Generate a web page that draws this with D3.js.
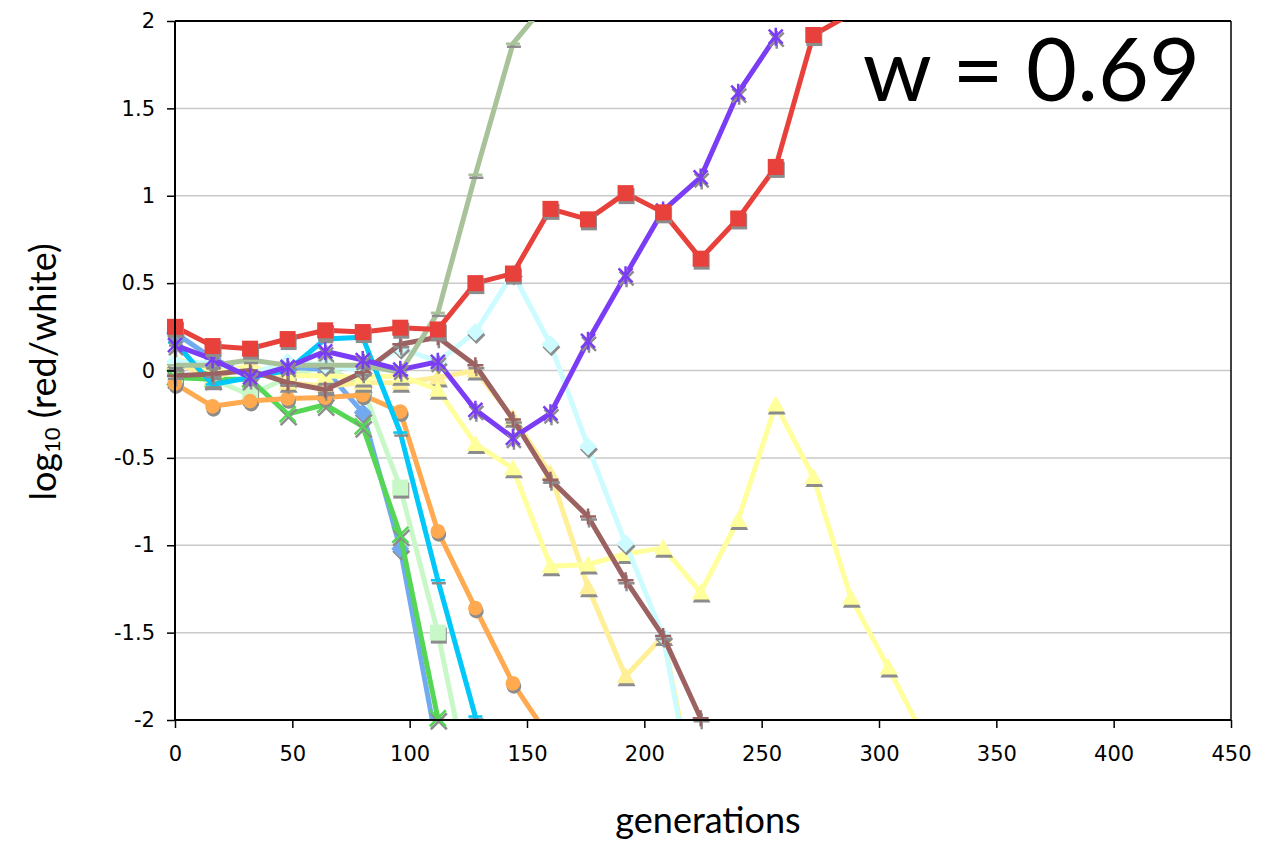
<!DOCTYPE html>
<html>
<head>
<meta charset="utf-8">
<script src="https://cdn.jsdelivr.net/npm/d3@7"></script>
<style>
  body { margin: 0; background: #fff; }
  .tick text { font-family: "DejaVu Sans", Verdana, sans-serif; font-size: 21px; fill: #000; }
</style>
</head>
<body>
<svg width="1281" height="844"></svg>
<script>
// generations sampled every 16
var gens = d3.range(0, 321, 16);

var red       = [0.25, 0.14, 0.125, 0.18, 0.23, 0.22, 0.245, 0.235, 0.5, 0.555, 0.925, 0.865, 1.015, 0.905, 0.64, 0.87, 1.165, 1.92, 2.04];
var purple    = [0.145, 0.065, -0.04, 0.02, 0.11, 0.06, 0.005, 0.05, -0.225, -0.385, -0.245, 0.17, 0.545, 0.915, 1.105, 1.59, 1.91];
var sage      = [0.03, 0.03, 0.06, 0.03, 0.03, 0.03, -0.01, 0.33, 1.12, 1.87, 2.13];
var brown     = [-0.03, -0.02, 0.0, -0.07, -0.11, -0.01, 0.15, 0.19, 0.03, -0.28, -0.625, -0.835, -1.2, -1.52, -1.99, -2.45];
var cyan      = [0.16, -0.08, -0.04, 0.0, 0.18, 0.19, -0.355, -1.2, -1.98, -2.6];
var lightCyan = [0.05, 0.045, -0.02, 0.05, 0.03, 0.0, 0.13, 0.05, 0.22, 0.555, 0.15, -0.435, -0.99, -1.52, -2.67];
var yellowA   = [0.07, 0.0, 0.02, -0.03, -0.03, -0.04, -0.03, -0.11, -0.42, -0.56, -1.12, -1.11, -1.05, -1.015, -1.27, -0.855, -0.195, -0.61, -1.3, -1.7, -2.12];
var yellowB   = [0.05, -0.05, 0.035, -0.07, -0.09, -0.07, -0.07, -0.04, 0.0, -0.27, -0.59, -1.24, -1.75, -1.52, -2.6];
var orange    = [-0.075, -0.205, -0.175, -0.16, -0.155, -0.14, -0.235, -0.92, -1.36, -1.79, -2.11];
var green     = [-0.04, -0.05, -0.05, -0.25, -0.195, -0.32, -0.94, -1.99, -2.1];
var blue      = [0.215, 0.07, -0.03, 0.02, 0.005, -0.24, -1.02, -2.17];
var paleGreen = [-0.04, -0.05, -0.14, -0.04, 0.03, -0.1, -0.67, -1.5, -2.55];

var xTicks = d3.range(0, 451, 50);
var yTicks = [-2, -1.5, -1, -0.5, 0, 0.5, 1, 1.5, 2];

// drawing order: first is at the bottom
var series = [
  { values: paleGreen, color: "#c8f8c8", marker: "square" },
  { values: blue,      color: "#72aaf0", marker: "diamond" },
  { values: green,     color: "#55d655", marker: "x" },
  { values: orange,    color: "#ffaa50", marker: "circle" },
  { values: yellowB,   color: "#ffef96", marker: "triangle" },
  { values: yellowA,   color: "#ffff9c", marker: "triangle" },
  { values: lightCyan, color: "#ccfcff", marker: "diamond" },
  { values: cyan,      color: "#00c8f8", marker: "dash" },
  { values: brown,     color: "#9c6262", marker: "plus" },
  { values: sage,      color: "#a8c29a", marker: "dash" },
  { values: purple,    color: "#7a3cf5", marker: "star" },
  { values: red,       color: "#e8403a", marker: "square" }
];

var svg = d3.select("svg");
var margin = { left: 175, top: 21, right: 50, bottom: 124 };
var width = 1281 - margin.left - margin.right,
    height = 844 - margin.top - margin.bottom;

var x = d3.scaleLinear().domain([0, 450]).range([0, width]);
var y = d3.scaleLinear().domain([-2, 2]).range([height, 0]);

var g = svg.append("g").attr("transform", "translate(" + margin.left + "," + margin.top + ")");

svg.append("defs").append("clipPath").attr("id", "plot")
  .append("rect").attr("width", width).attr("height", height);

// grid
g.selectAll("line.grid")
  .data(yTicks.filter(function(d) { return d > -2 && d < 2; }))
  .enter().append("line")
  .attr("class", "grid")
  .attr("x1", 0).attr("x2", width)
  .attr("y1", function(d) { return y(d); })
  .attr("y2", function(d) { return y(d); })
  .attr("stroke", "#c9c9c9")
  .attr("stroke-width", 1.5);

// box top / right
g.append("line").attr("x1", 0).attr("x2", width).attr("y1", 0).attr("y2", 0)
  .attr("stroke", "#000").attr("stroke-width", 2);
g.append("line").attr("x1", width).attr("x2", width).attr("y1", 0).attr("y2", height)
  .attr("stroke", "#000").attr("stroke-width", 1.5);

var line = d3.line()
  .x(function(d) { return x(d.g); })
  .y(function(d) { return y(d.v); });

function pts(vals) {
  return vals.map(function(v, i) { return { g: gens[i], v: v }; });
}

function markerPath(type) {
  switch (type) {
    case "square":   return "M-8,-8H8V8H-8Z";
    case "diamond":  return "M0,-9L9,0L0,9L-9,0Z";
    case "triangle": return "M0,-9L9,7H-9Z";
    case "circle":   return d3.symbol(d3.symbolCircle, 170)();
    case "plus":     return "M-8,0H8M0,-8V8";
    case "x":        return "M-8,-8L8,8M-8,8L8,-8";
    case "star":     return "M-7,-7L7,7M-7,7L7,-7M0,-9V9";
    case "dash":     return "M-7,0H7";
  }
}
var stroked = { plus: 1, x: 1, star: 1, dash: 1 };

var plot = g.append("g");

series.forEach(function(s) {
  var p = pts(s.values);
  plot.append("path")
    .datum(p)
    .attr("clip-path", "url(#plot)")
    .attr("fill", "none")
    .attr("stroke", s.color)
    .attr("stroke-width", 5)
    .attr("stroke-linejoin", "round")
    .attr("d", line);

  var inRange = p.filter(function(d) { return d.v >= -2 && d.v <= 2; });
  var mk = plot.selectAll(null).data(inRange).enter().append("g")
    .attr("transform", function(d) { return "translate(" + x(d.g) + "," + y(d.v) + ")"; });
  var isStroke = stroked[s.marker];
  // shadow
  mk.append("path")
    .attr("transform", "translate(1,3)")
    .attr("d", markerPath(s.marker))
    .attr("fill", isStroke ? "none" : "#8c8c8c")
    .attr("stroke", isStroke ? "#8c8c8c" : "none")
    .attr("stroke-width", 2.5);
  mk.append("path")
    .attr("d", markerPath(s.marker))
    .attr("fill", isStroke ? "none" : s.color)
    .attr("stroke", isStroke ? s.color : "none")
    .attr("stroke-width", 2.5);
});

// axes
var yAxis = g.append("g")
  .call(d3.axisLeft(y).tickValues(yTicks).tickSize(8).tickPadding(12)
    .tickFormat(function(d) { return String(d); }));
var xAxis = g.append("g")
  .attr("transform", "translate(0," + height + ")")
  .call(d3.axisBottom(x).tickValues(xTicks).tickSize(8).tickPadding(18)
    .tickFormat(function(d) { return String(d); }));
[yAxis, xAxis].forEach(function(a) {
  a.select(".domain").attr("stroke", "#000").attr("stroke-width", 2);
  a.selectAll(".tick line").attr("stroke", "#000").attr("stroke-width", 1.5);
});
yAxis.select(".domain").attr("d", "M0,0V" + height);
xAxis.select(".domain").attr("d", "M0,0H" + width);

// titles
svg.append("text")
  .attr("x", 1200).attr("y", 101)
  .attr("text-anchor", "end")
  .style("font-family", "Lato, 'Open Sans', sans-serif")
  .style("font-size", "88px")
  .text("w = 0.69");

svg.append("text")
  .attr("x", 708).attr("y", 833)
  .attr("text-anchor", "middle")
  .style("font-family", "Lato, 'Open Sans', sans-serif")
  .style("font-size", "36px")
  .text("generations");

var yl = svg.append("text")
  .attr("transform", "translate(56,372) rotate(-90)")
  .attr("text-anchor", "middle")
  .style("font-family", "Lato, 'Open Sans', sans-serif")
  .style("font-size", "36px");
yl.append("tspan").text("log");
yl.append("tspan").attr("font-size", "22px").attr("dy", 4).text("10");
yl.append("tspan").attr("dy", -4).text(" (red/white)");
</script>
</body>
</html>
